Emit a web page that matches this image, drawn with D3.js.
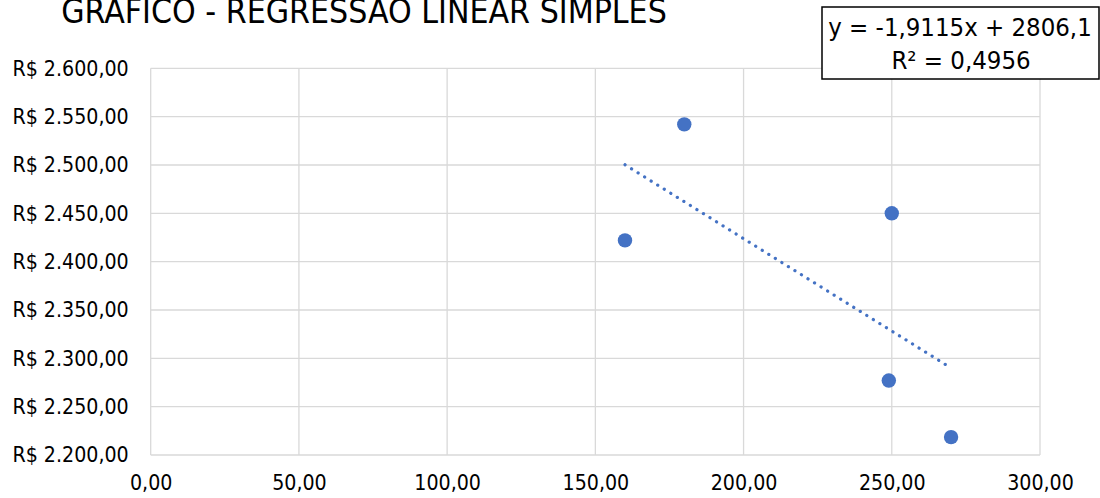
<!DOCTYPE html>
<html>
<head>
<meta charset="utf-8">
<script src="https://cdn.jsdelivr.net/npm/d3@7/dist/d3.min.js"></script>
<style>
  html, body { margin: 0; padding: 0; background: #fff; }
  svg { display: block; }
  text { font-family: "DejaVu Sans Condensed", "DejaVu Sans", sans-serif; fill: #000; }
</style>
</head>
<body>
<svg id="chart" width="1100" height="498"></svg>
<script>
const title = "GRÁFICO - REGRESSÃO LINEAR SIMPLES";
const xValues = [160, 180, 250, 249, 270];
const yValues = [2422, 2542, 2450, 2277, 2218.5];
const xTicks = [0, 50, 100, 150, 200, 250, 300];
const yTicks = [2200, 2250, 2300, 2350, 2400, 2450, 2500, 2550, 2600];
const trendSlope = -1.9115;
const trendIntercept = 2806.1;
const equationLabel = "y = -1,9115x + 2806,1";
const r2Label = "R² = 0,4956";

const plotL = 150.7, plotR = 1040, plotT = 68.3, plotB = 455;

const svg = d3.select("#chart");
const x = d3.scaleLinear().domain([0, 300]).range([plotL, plotR]);
const y = d3.scaleLinear().domain([2200, 2600]).range([plotB, plotT]);

const loc = d3.formatLocale({decimal: ",", thousands: ".", grouping: [3], currency: ["R$ ", ""]});
const fx = loc.format(",.2f");
const fy = v => "R$ " + loc.format(",.2f")(v);

// gridlines
const grid = svg.append("g");
grid.selectAll("line.h").data(yTicks).join("line")
  .attr("x1", plotL).attr("x2", plotR)
  .attr("y1", d => y(d)).attr("y2", d => y(d))
  .attr("stroke", "#d9d9d9").attr("stroke-width", 1.3);
grid.selectAll("line.v").data(xTicks).join("line")
  .attr("y1", plotT).attr("y2", plotB)
  .attr("x1", d => x(d)).attr("x2", d => x(d))
  .attr("stroke", "#d9d9d9").attr("stroke-width", 1.3);

// axes labels via d3 axes
const yAxis = d3.axisLeft(y).tickValues(yTicks).tickFormat(fy).tickSize(0).tickPadding(22);
const gy = svg.append("g").attr("transform", `translate(${plotL},0)`).call(yAxis);
gy.select(".domain").remove();
gy.selectAll("text").attr("font-size", 21.2).attr("fill", "#000");
gy.attr("font-family", null).attr("font-size", null);

const xAxis = d3.axisBottom(x).tickValues(xTicks).tickFormat(fx).tickSize(0).tickPadding(20);
const gx = svg.append("g").attr("transform", `translate(0,${plotB})`).call(xAxis);
gx.select(".domain").remove();
gx.selectAll("text").attr("font-size", 21.2).attr("fill", "#000");
gx.attr("font-family", null).attr("font-size", null);

// trendline
const xMin = d3.min(xValues), xMax = d3.max(xValues);
const trend = [xMin, xMax].map(v => [v, trendSlope * v + trendIntercept]);
svg.append("path")
  .attr("d", d3.line().x(d => x(d[0])).y(d => y(d[1]))(trend))
  .attr("fill", "none").attr("stroke", "#4472C4").attr("stroke-width", 3.2)
  .attr("stroke-linecap", "round").attr("stroke-dasharray", "0.1 7.6");

// points
svg.selectAll("circle.pt").data(xValues.map((v, i) => [v, yValues[i]])).join("circle")
  .attr("class", "pt")
  .attr("cx", d => x(d[0])).attr("cy", d => y(d[1])).attr("r", 7.2)
  .attr("fill", "#4472C4");

// title
svg.append("text").attr("x", 364).attr("y", 22.5).attr("text-anchor", "middle")
  .attr("font-size", 33.5).text(title);

// equation box
svg.append("rect").attr("x", 822).attr("y", 7).attr("width", 277).attr("height", 72)
  .attr("fill", "#fff").attr("stroke", "#000").attr("stroke-width", 1.5);
svg.append("text").attr("x", 960).attr("y", 36).attr("text-anchor", "middle")
  .attr("font-size", 25.5).text(equationLabel);
svg.append("text").attr("x", 961).attr("y", 69).attr("text-anchor", "middle")
  .attr("font-size", 25.5).text(r2Label);
</script>
</body>
</html>
